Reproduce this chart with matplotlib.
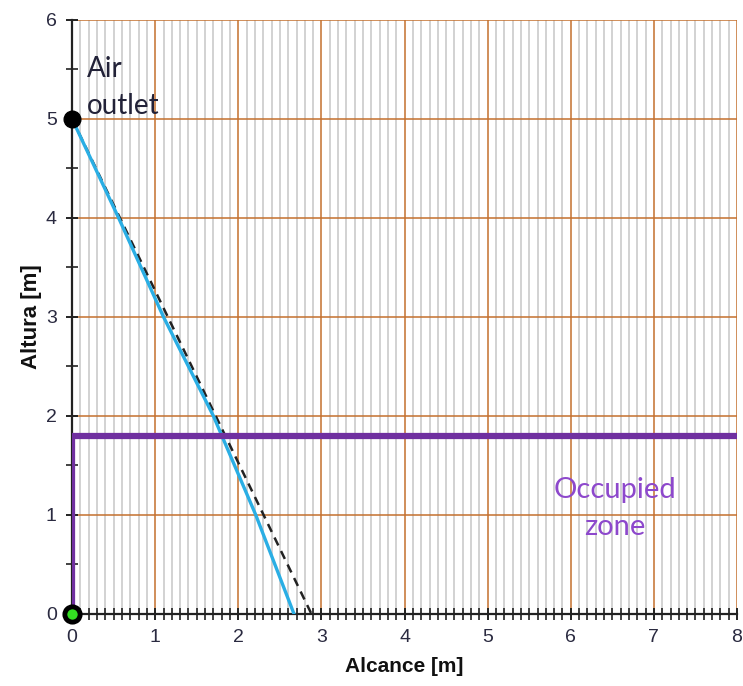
import matplotlib
matplotlib.use("Agg")
import matplotlib.pyplot as plt
from matplotlib.ticker import MultipleLocator

# Data
jet_x = [0.0, 0.56, 1.10, 1.70, 2.21, 2.67]
jet_y = [5.0, 4.0, 3.0, 2.0, 1.0, 0.0]
ref_x = [0.0, 2.88]
ref_y = [5.0, 0.0]
zone_x = [0.0, 0.0, 8.0]
zone_y = [0.0, 1.8, 1.8]
outlet = (0.0, 5.0)
origin = (0.0, 0.0)

fig = plt.figure(figsize=(7.43, 6.86), dpi=100)
ax = fig.add_axes([0.097, 0.105, 0.895, 0.866])

ax.set_xlim(0, 8)
ax.set_ylim(0, 6)

ax.xaxis.set_major_locator(MultipleLocator(1))
ax.xaxis.set_minor_locator(MultipleLocator(0.1))
ax.yaxis.set_major_locator(MultipleLocator(1))
ax.yaxis.set_minor_locator(MultipleLocator(0.5))

ax.grid(which='minor', axis='x', color='#cfcfcf', linewidth=1.3, zorder=0)
ax.grid(which='major', axis='both', color='#c4702e', linewidth=1.1, zorder=1)
ax.set_axisbelow(True)

for s in ['top', 'right']:
    ax.spines[s].set_visible(False)
for s in ['left', 'bottom']:
    ax.spines[s].set_color('#222222')
    ax.spines[s].set_linewidth(1.6)
    ax.spines[s].set_zorder(3)

ax.tick_params(which='major', direction='inout', length=8, width=1.4, color='#222222',
               labelsize=14, labelcolor='#2a2a40', pad=7)
ax.tick_params(which='minor', direction='inout', length=8, width=1.2, color='#222222')
for lab in ax.get_xticklabels() + ax.get_yticklabels():
    lab.set_family('Liberation Sans')
    lab.set_fontsize(14)

ax.plot(ref_x, ref_y, color='#222222', linestyle=(0, (3.5, 2.5)), linewidth=1.8, zorder=4)
ax.plot(jet_x, jet_y, color='#2aaee4', linewidth=2.4, zorder=5)
ax.plot(zone_x, zone_y, color='#7030a0', linewidth=4.5, zorder=6, solid_joinstyle='miter')

ax.plot([outlet[0]], [outlet[1]], 'o', markersize=12, color='black', zorder=8, clip_on=False)
ax.plot([origin[0]], [origin[1]], 'o', markersize=11, markerfacecolor='#33dd22',
        markeredgecolor='black', markeredgewidth=3.5, zorder=8, clip_on=False)

ax.text(0.18, 5.5, 'Air', fontsize=20, color='#222238', family='Lato',
        ha='left', va='center', zorder=9)
ax.text(0.18, 5.13, 'outlet', fontsize=20, color='#222238', family='Lato',
        ha='left', va='center', zorder=9)
ax.text(6.53, 1.25, 'Occupied', fontsize=21, color='#8d48cc', family='Lato',
        ha='center', va='center', zorder=9)
ax.text(6.53, 0.88, 'zone', fontsize=21, color='#8d48cc', family='Lato',
        ha='center', va='center', zorder=9)

ax.set_xlabel('Alcance [m]', fontsize=15, fontweight='bold', color='#111111',
              labelpad=8, family='Liberation Sans')
ax.set_ylabel('Altura [m]', fontsize=16, fontweight='bold', color='#111111',
              labelpad=3, family='Liberation Sans')

fig.savefig('out.png', dpi=100)
